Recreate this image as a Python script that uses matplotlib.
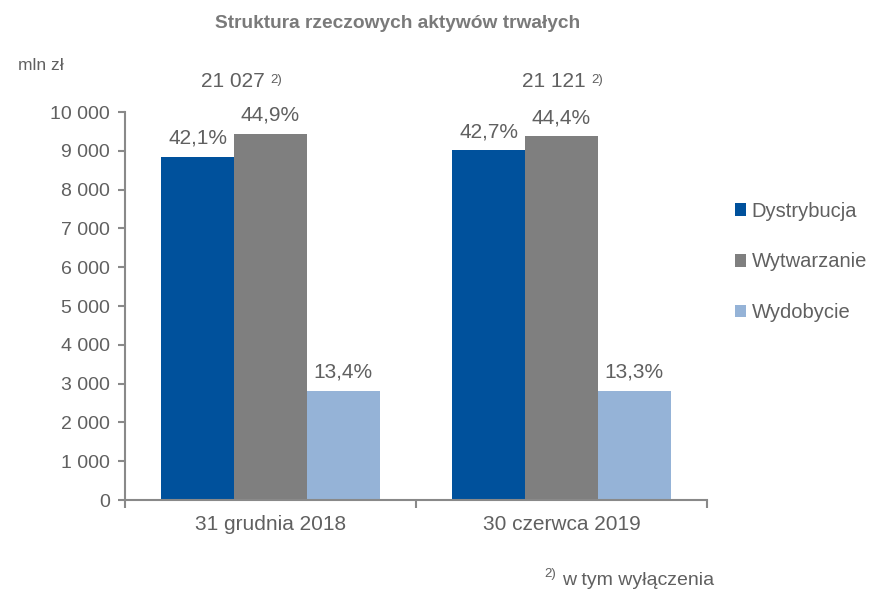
import matplotlib
matplotlib.use("Agg")
import matplotlib.pyplot as plt
import numpy as np

plt.rcParams['font.family'] = ['Liberation Sans', 'DejaVu Sans']

# data
categories = ["31 grudnia 2018", "30 czerwca 2019"]
series = ["Dystrybucja", "Wytwarzanie", "Wydobycie"]
values = {
    "Dystrybucja": [8852, 9019],
    "Wytwarzanie": [9441, 9378],
    "Wydobycie": [2818, 2809],
}
shares = {
    "Dystrybucja": ["42,1%", "42,7%"],
    "Wytwarzanie": ["44,9%", "44,4%"],
    "Wydobycie": ["13,4%", "13,3%"],
}
totals = ["21 027", "21 121"]
yticks = np.arange(0, 10001, 1000)
ytick_labels = ["0" if v == 0 else "{:,}".format(v).replace(",", " ") for v in yticks]

colors = ["#00519C", "#7F7F7F", "#95B3D7"]
txt = "#606060"
axc = "#898989"

fig = plt.figure(figsize=(8.7, 5.92), dpi=100)
ax = fig.add_axes([0.1437, 0.1554, 0.669, 0.6554])

x = np.arange(len(categories))
w = 0.25
for i, s in enumerate(series):
    bars = ax.bar(x + (i - 1) * w, values[s], w, color=colors[i], label=s)
    for b, lab in zip(bars, shares[s]):
        ax.annotate(lab, (b.get_x() + b.get_width() / 2, b.get_height()),
                    xytext=(0, 6.5), textcoords="offset points",
                    ha="center", va="bottom", fontsize=15, color=txt)

ax.set_xlim(-0.5, 1.5)
ax.set_ylim(0, 10000)
ax.set_yticks(yticks)
ax.set_yticklabels(ytick_labels)
ax.set_xticks(x)
ax.set_xticklabels(categories)
ax.set_xticks([-0.5, 0.5, 1.5], minor=True)
ax.tick_params(axis="x", which="major", length=0, pad=11, labelsize=15, labelcolor=txt)
ax.tick_params(axis="x", which="minor", length=6, color=axc, width=1.5, direction="out")
ax.tick_params(axis="y", length=5, color=axc, width=1.5, labelsize=14, labelcolor=txt, pad=6)
for sp in ["top", "right"]:
    ax.spines[sp].set_visible(False)
for sp in ["left", "bottom"]:
    ax.spines[sp].set_color(axc)
    ax.spines[sp].set_linewidth(1.5)

# totals above groups (superscript footnote mark)
total_x = [-0.131, 0.974]
for tx, t in zip(total_x, totals):
    tt = ax.text(tx, 10780, t, ha="center", va="center", fontsize=15, color=txt, clip_on=False)
    ax.annotate("2)", xy=(1, 1), xycoords=tt, xytext=(4, -1), textcoords="offset points",
                ha="left", va="top", fontsize=9.5, color=txt)

fig.text(0.457, 0.96, "Struktura rzeczowych aktywów trwałych", ha="center", va="center",
         fontsize=13.8, fontweight="bold", color="#7A7A7A")
fig.text(0.021, 0.89, "mln zł", ha="left", va="center", fontsize=12.5, color=txt)

fig.text(0.646, 0.02, "w tym wyłączenia", ha="left", va="center", fontsize=14, color=txt)
fig.text(0.626, 0.03, "2)", ha="left", va="center", fontsize=9.5, color=txt)

fig.legend(loc="upper left", bbox_to_anchor=(0.824, 0.69), frameon=False,
           fontsize=14.5, labelcolor=txt, handlelength=0.57, handleheight=0.57,
           handletextpad=0.25, labelspacing=1.58)

fig.savefig("out.png", dpi=100)
